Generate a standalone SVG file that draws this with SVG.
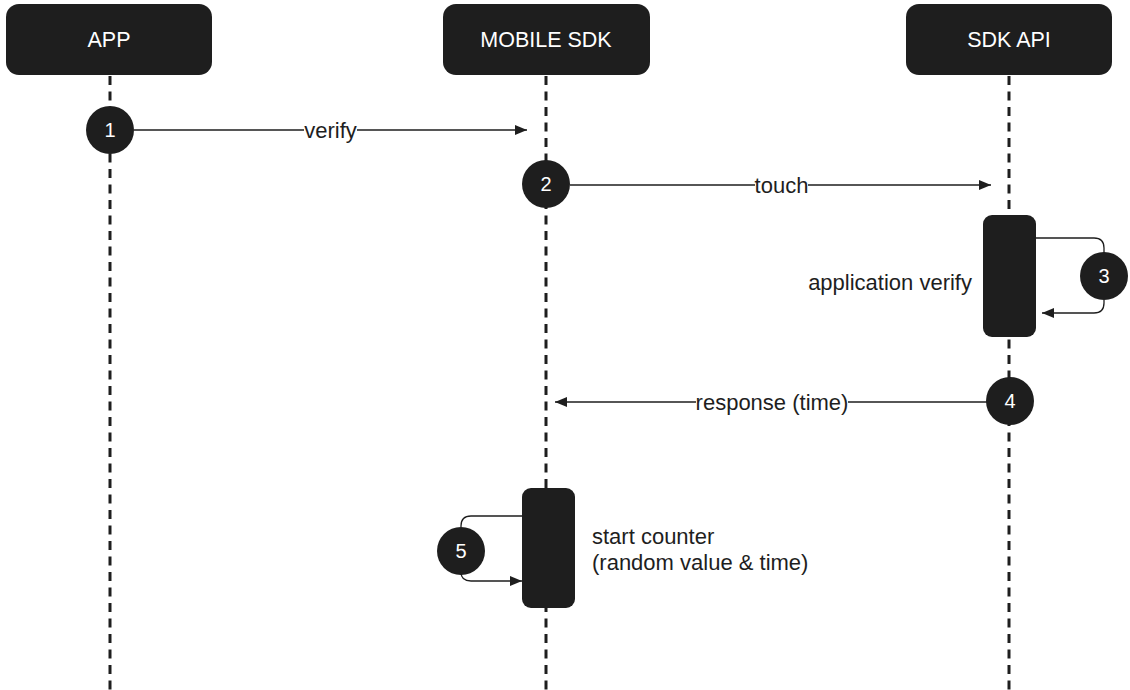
<svg xmlns="http://www.w3.org/2000/svg" width="1130" height="690" viewBox="0 0 1130 690">
  <style>
    .actor { fill: #1e1e1e; }
    .actor-label { fill: #ffffff; font-family: "Liberation Sans", Arial, sans-serif; font-size: 21.5px; text-anchor: middle; dominant-baseline: central; }
    .lifeline { stroke: #1e1e1e; stroke-width: 3; stroke-dasharray: 9 6.5; fill: none; }
    .msg { stroke: #1e1e1e; stroke-width: 1.3; fill: none; }
    .msg-label { fill: #1e1e1e; font-family: "Liberation Sans", Arial, sans-serif; font-size: 22px; dominant-baseline: central; }
    .step { fill: #1e1e1e; }
    .step-label { fill: #ffffff; font-family: "Liberation Sans", Arial, sans-serif; font-size: 20px; text-anchor: middle; dominant-baseline: central; }
    .activation { fill: #1e1e1e; }
  </style>
  <defs>
    <marker id="arrow" viewBox="0 0 12 10" refX="12" refY="5" markerWidth="12" markerHeight="10" markerUnits="userSpaceOnUse" orient="auto">
      <path d="M0,0 L12,5 L0,10 z" fill="#1e1e1e"/>
    </marker>
  </defs>

  <rect width="1130" height="690" fill="#ffffff"/>

  <!-- lifelines -->
  <g id="lifelines">
    <line class="lifeline" x1="110" y1="76" x2="110" y2="690"/>
    <line class="lifeline" x1="546" y1="76" x2="546" y2="690"/>
    <line class="lifeline" x1="1009" y1="76" x2="1009" y2="690"/>
  </g>

  <!-- actors -->
  <g id="actor-app">
    <rect class="actor" x="6" y="4" width="206" height="71" rx="13"/>
    <text class="actor-label" x="109" y="40">APP</text>
  </g>
  <g id="actor-mobile-sdk">
    <rect class="actor" x="443" y="4" width="207" height="71" rx="13"/>
    <text class="actor-label" x="546" y="40">MOBILE SDK</text>
  </g>
  <g id="actor-sdk-api">
    <rect class="actor" x="906" y="4" width="206" height="71" rx="13"/>
    <text class="actor-label" x="1009" y="40">SDK API</text>
  </g>

  <!-- activation bars -->
  <g id="activation-sdk-api">
    <rect class="activation" x="983" y="215" width="53" height="122" rx="9"/>
  </g>
  <g id="activation-mobile-sdk">
    <rect class="activation" x="522" y="488" width="53" height="120" rx="9"/>
  </g>

  <!-- connectors -->
  <g id="connectors">
    <!-- 1: verify -->
    <line class="msg" x1="134" y1="130" x2="304" y2="130"/>
    <line class="msg" x1="357" y1="130" x2="527" y2="130" marker-end="url(#arrow)"/>
    <text class="msg-label" x="330.5" y="130" text-anchor="middle">verify</text>

    <!-- 2: touch -->
    <line class="msg" x1="570" y1="185" x2="755" y2="185"/>
    <line class="msg" x1="808" y1="185" x2="991" y2="185" marker-end="url(#arrow)"/>
    <text class="msg-label" x="781.5" y="185" text-anchor="middle">touch</text>

    <!-- 3: self call on SDK API -->
    <path class="msg" d="M1036,238 H1094 Q1104,238 1104,248 V253"/>
    <path class="msg" d="M1104,300 V303 Q1104,313 1094,313 H1042" marker-end="url(#arrow)"/>
    <text class="msg-label" x="972" y="282" text-anchor="end">application verify</text>

    <!-- 4: response (time) -->
    <line class="msg" x1="987" y1="402" x2="848" y2="402"/>
    <line class="msg" x1="696" y1="402" x2="555" y2="402" marker-end="url(#arrow)"/>
    <text class="msg-label" x="772" y="402" text-anchor="middle">response (time)</text>

    <!-- 5: self call on MOBILE SDK -->
    <path class="msg" d="M522,516 H471 Q461,516 461,526 V527"/>
    <path class="msg" d="M461,575 V572 Q461,581 471,581 H522" marker-end="url(#arrow)"/>
    <text class="msg-label" x="592" y="536">start counter</text>
    <text class="msg-label" x="592" y="562">(random value &amp; time)</text>
  </g>

  <!-- step markers -->
  <g id="step-1">
    <circle class="step" cx="110" cy="130" r="24"/>
    <text class="step-label" x="110" y="130">1</text>
  </g>
  <g id="step-2">
    <circle class="step" cx="546" cy="184" r="24"/>
    <text class="step-label" x="546" y="184">2</text>
  </g>
  <g id="step-3">
    <circle class="step" cx="1104" cy="276" r="24"/>
    <text class="step-label" x="1104" y="276">3</text>
  </g>
  <g id="step-4">
    <circle class="step" cx="1010" cy="401" r="24"/>
    <text class="step-label" x="1010" y="401">4</text>
  </g>
  <g id="step-5">
    <circle class="step" cx="461" cy="551" r="24"/>
    <text class="step-label" x="461" y="551">5</text>
  </g>
</svg>
